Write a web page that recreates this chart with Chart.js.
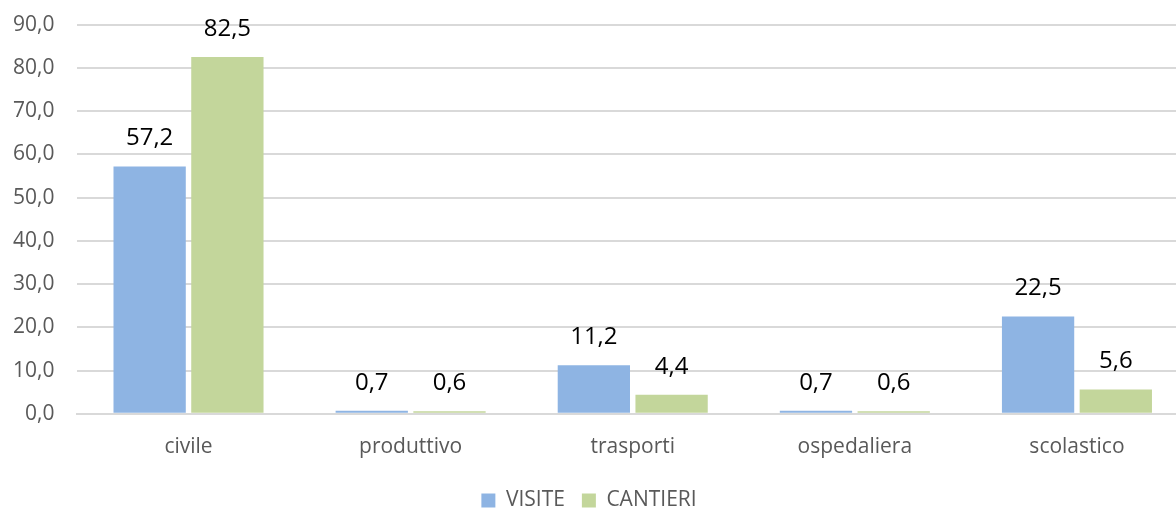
<!DOCTYPE html>
<html>
<head>
<meta charset="utf-8">
<script src="https://cdn.jsdelivr.net/npm/chart.js@4"></script>
<style>
  html, body { margin: 0; padding: 0; background: #fff; overflow: hidden; }
  #wrap { width: 1192px; height: 522px; margin-top: -11px; }
</style>
</head>
<body>
<div id="wrap"><canvas id="barChart"></canvas></div>
<script>
const categories = ['civile', 'produttivo', 'trasporti', 'ospedaliera', 'scolastico'];
const visite = [57.2, 0.7, 11.2, 0.7, 22.5];
const cantieri = [82.5, 0.6, 4.4, 0.6, 5.6];
const seriesNames = ['VISITE', 'CANTIERI'];
const yTicks = [0, 10, 20, 30, 40, 50, 60, 70, 80, 90];

function fmt(v) {
    return v.toFixed(1).replace('.', ',');
}

// etichette sopra le barre
const valueLabels = {
    id: 'valueLabels',
    afterDatasetsDraw(chart) {
        const ctx = chart.ctx;
        ctx.save();
        ctx.font = '24px "Open Sans"';
        ctx.fillStyle = '#000000';
        ctx.textAlign = 'center';
        ctx.textBaseline = 'middle';
        chart.data.datasets.forEach((ds, i) => {
            chart.getDatasetMeta(i).data.forEach((bar, j) => {
                ctx.fillText(fmt(ds.data[j]), bar.x, bar.y - 28);
            });
        });
        ctx.restore();
    }
};

new Chart(document.getElementById('barChart').getContext('2d'), {
    type: 'bar',
    data: {
        labels: categories,
        datasets: [{
            label: seriesNames[0],
            data: visite,
            backgroundColor: '#8EB4E3',
            categoryPercentage: 0.7,
            barPercentage: 0.93
        }, {
            label: seriesNames[1],
            data: cantieri,
            backgroundColor: '#C3D69B',
            categoryPercentage: 0.7,
            barPercentage: 0.93
        }]
    },
    options: {
        responsive: true,
        maintainAspectRatio: false,
        animation: false,
        layout: { padding: { top: 0, left: -10, right: 4, bottom: -10 } },
        plugins: {
            legend: {
                position: 'bottom',
                labels: {
                    boxWidth: 14,
                    boxHeight: 14,
                    color: '#595959',
                    font: { family: 'Open Sans', size: 21 },
                    padding: 17
                }
            },
            tooltip: { enabled: false }
        },
        scales: {
            x: {
                grid: { display: false },
                border: { color: '#D9D9D9', width: 2 },
                ticks: { color: '#595959', font: { family: 'Open Sans', size: 21 }, padding: 13 }
            },
            y: {
                min: 0,
                max: 90,
                afterBuildTicks(axis) {
                    axis.ticks = yTicks.map(v => ({ value: v }));
                },
                grid: { color: '#D9D9D9', lineWidth: 2, drawTicks: false },
                border: { display: false },
                ticks: {
                    color: '#595959',
                    font: { family: 'Open Sans', size: 21 },
                    padding: 23,
                    callback: v => fmt(v)
                }
            }
        }
    },
    plugins: [valueLabels]
});
</script>
</body>
</html>
